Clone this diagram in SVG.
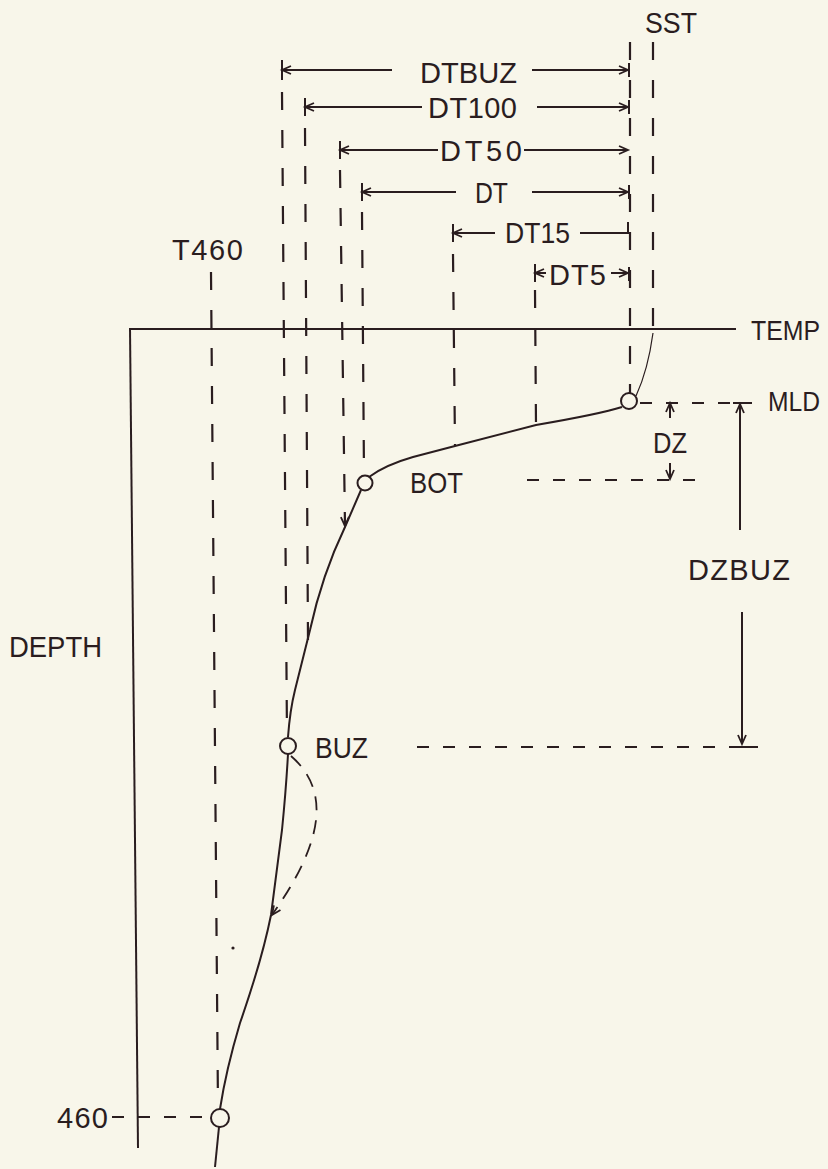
<svg xmlns="http://www.w3.org/2000/svg" width="828" height="1169" viewBox="0 0 828 1169">
<style>
.ink{stroke:#2a1d1f;fill:none;stroke-width:2;stroke-linecap:butt}
.thin{stroke:#2a1d1f;fill:none;stroke-width:1.2}
.dv{stroke:#2a1d1f;fill:none;stroke-width:2.2;stroke-dasharray:18 20}
.dh{stroke:#2a1d1f;fill:none;stroke-width:2;stroke-dasharray:12 14}
.dc{stroke:#2a1d1f;fill:none;stroke-width:1.8;stroke-dasharray:14 10}
.pt{stroke:#2a1d1f;fill:none;stroke-width:2}
text{font-family:"Liberation Sans","DejaVu Sans",sans-serif;font-size:29px;fill:#2a1d1f}
text.sm{font-size:27px}
</style>
<defs>
<marker id="ah" markerUnits="userSpaceOnUse" markerWidth="14" markerHeight="14" viewBox="-11 -7 14 14" refX="0" refY="0" orient="auto-start-reverse">
<path d="M-9,-4 L0,0 L-9,4" fill="none" stroke="#2a1d1f" stroke-width="1.8"/>
</marker>
</defs>
<rect width="828" height="1169" fill="#f8f6ea"/>

<g id="axes">
<line class="ink" x1="130" y1="329" x2="736" y2="329"/>
<line class="ink" x1="130" y1="328" x2="138" y2="1148" stroke-width="1.6"/>
</g>

<g id="connectors">
<line class="dv" x1="653" y1="42" x2="653" y2="326"/>
<line class="dv" x1="630" y1="42" x2="630" y2="393"/>
<line class="dv" x1="282" y1="92" x2="287" y2="737"/>
<line class="dv" x1="305" y1="128" x2="308" y2="642"/>
<line class="dv" x1="340" y1="170" x2="345" y2="526" marker-end="url(#ah)"/>
<line class="dv" x1="362" y1="212" x2="364" y2="475"/>
<line class="dv" x1="453" y1="254" x2="455" y2="446"/>
<line class="dv" x1="535" y1="290" x2="536" y2="425"/>
<line class="dv" x1="211" y1="272" x2="218" y2="1108"/>

<g id="dim-dtbuz">
<line class="ink" x1="282" y1="60" x2="282" y2="80"/>
<line class="ink" x1="282" y1="70" x2="392" y2="70" marker-start="url(#ah)"/>
<line class="ink" x1="532" y1="70" x2="628" y2="70" marker-end="url(#ah)"/>
<line class="ink" x1="629" y1="63" x2="629" y2="77"/>
</g>
<g id="dim-dt100">
<line class="ink" x1="305" y1="98" x2="305" y2="116"/>
<line class="ink" x1="305" y1="107" x2="422" y2="107" marker-start="url(#ah)"/>
<line class="ink" x1="537" y1="107" x2="628" y2="107" marker-end="url(#ah)"/>
<line class="ink" x1="629" y1="100" x2="629" y2="114"/>
</g>
<g id="dim-dt50">
<line class="ink" x1="340" y1="141" x2="340" y2="159"/>
<line class="ink" x1="340" y1="150" x2="438" y2="150" marker-start="url(#ah)"/>
<line class="ink" x1="524" y1="150" x2="628" y2="150" marker-end="url(#ah)"/>
</g>
<g id="dim-dt">
<line class="ink" x1="362" y1="183" x2="362" y2="201"/>
<line class="ink" x1="362" y1="192" x2="456" y2="192" marker-start="url(#ah)"/>
<line class="ink" x1="532" y1="192" x2="628" y2="192" marker-end="url(#ah)"/>
<line class="ink" x1="629" y1="185" x2="629" y2="199"/>
</g>
<g id="dim-dt15">
<line class="ink" x1="453" y1="224" x2="453" y2="242"/>
<line class="ink" x1="453" y1="233" x2="495" y2="233" marker-start="url(#ah)"/>
<line class="ink" x1="580" y1="233" x2="628" y2="233"/>
<line class="ink" x1="628" y1="234" x2="628" y2="222"/>
</g>
<g id="dim-dt5">
<line class="ink" x1="535" y1="264" x2="535" y2="282"/>
<line class="ink" x1="535" y1="273" x2="546" y2="273" marker-start="url(#ah)"/>
<line class="ink" x1="611" y1="273" x2="628" y2="273" marker-end="url(#ah)"/>
<line class="ink" x1="629" y1="267" x2="629" y2="281"/>
</g>

<line class="dh" x1="640" y1="403" x2="733" y2="403"/>
<line class="ink" x1="733" y1="403" x2="752" y2="403"/>
<line class="ink" x1="740" y1="530" x2="740" y2="404" marker-end="url(#ah)"/>
<line class="ink" x1="742" y1="612" x2="742" y2="744" marker-end="url(#ah)"/>
<line class="dh" x1="417" y1="747" x2="730" y2="747" stroke-dasharray="13 15"/>
<line class="ink" x1="730" y1="747" x2="758" y2="747"/>
<line class="ink" x1="670" y1="418" x2="670" y2="403" marker-end="url(#ah)"/>
<line class="ink" x1="670" y1="463" x2="670" y2="479" marker-end="url(#ah)"/>
<line class="dh" x1="527" y1="480" x2="703" y2="480" stroke-dasharray="13 14"/>
<line class="dh" x1="112" y1="1117" x2="210" y2="1117" stroke-dasharray="10 11"/>

<path class="thin" d="M653,333 Q648,370 636,396"/>
<path class="pt" d="M622,407 Q600,414 536,425 L455,446 L413,457 Q385,465 369,477"/>
<path class="pt" d="M361,490 L345,527 Q322,575 310,630 L295,690 Q290,710 288,737"/>
<path class="pt" d="M288,754 Q286,790 282,830 L271,915 Q262,960 240,1023 Q226,1070 220,1109"/>
<path class="pt" d="M219,1127 L215,1167"/>
<path class="dc" d="M291,756 C330,790 325,840 272,915" marker-end="url(#ah)"/>
<circle cx="233" cy="948" r="1.6" fill="#2a1d1f"/>
</g>

<g id="node-mld"><circle class="pt" cx="629" cy="401" r="8"/><text class="sm" x="768" y="411" textLength="52" lengthAdjust="spacingAndGlyphs">MLD</text></g>
<g id="node-bot"><circle class="pt" cx="365" cy="483" r="7.5"/><text x="410" y="493" textLength="53" lengthAdjust="spacingAndGlyphs">BOT</text></g>
<g id="node-buz"><circle class="pt" cx="288" cy="746" r="8"/><text x="315" y="758" textLength="53" lengthAdjust="spacingAndGlyphs">BUZ</text></g>
<g id="node-460"><circle class="pt" cx="220" cy="1118" r="9"/><text x="57" y="1128" textLength="51" lengthAdjust="spacing">460</text></g>

<g id="labels">
<text x="645" y="33" textLength="52" lengthAdjust="spacingAndGlyphs">SST</text>
<text x="420" y="83" textLength="97" lengthAdjust="spacingAndGlyphs">DTBUZ</text>
<text x="428" y="118" textLength="89" lengthAdjust="spacing">DT100</text>
<text x="440" y="161" textLength="82" lengthAdjust="spacing">DT50</text>
<text x="475" y="203" textLength="33" lengthAdjust="spacingAndGlyphs">DT</text>
<text x="505" y="243" textLength="65" lengthAdjust="spacingAndGlyphs">DT15</text>
<text x="549" y="285" textLength="57" lengthAdjust="spacing">DT5</text>
<text x="172" y="260" textLength="71" lengthAdjust="spacing">T460</text>
<text class="sm" x="751" y="340" textLength="69" lengthAdjust="spacingAndGlyphs">TEMP</text>
<text x="653" y="453" textLength="34" lengthAdjust="spacingAndGlyphs">DZ</text>
<text x="688" y="580" textLength="102" lengthAdjust="spacing">DZBUZ</text>
<text x="9" y="657" textLength="93" lengthAdjust="spacingAndGlyphs">DEPTH</text>
</g>
</svg>
